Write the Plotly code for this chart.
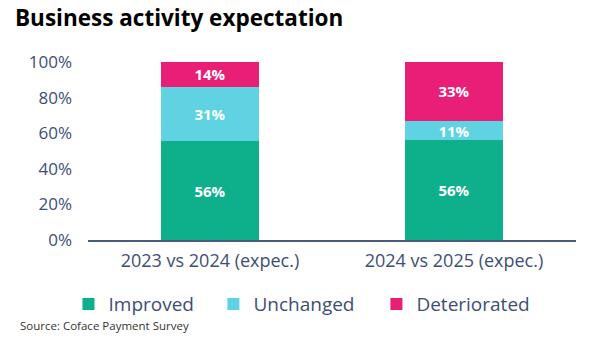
import plotly.graph_objects as go

categories = ["2023 vs 2024 (expec.)", "2024 vs 2025 (expec.)"]
improved = [55.6, 56]
unchanged = [30.6, 11]
deteriorated = [13.8, 33]
y_ticks = [0, 20, 40, 60, 80, 100]
y_tick_labels = ["0%", "20%", "40%", "60%", "80%", "100%"]

TXT = "#3d4e75"
FONT = "Open Sans"

series = [("Improved", improved, "#0eaf8b", "legend", -0.040),
          ("Unchanged", unchanged, "#5fd3e1", "legend2", 0.257),
          ("Deteriorated", deteriorated, "#e91e76", "legend3", 0.591)]

fig = go.Figure()
for name, vals, col, lg, _ in series:
    fig.add_trace(go.Bar(
        x=categories, y=vals, name=name, legend=lg,
        marker=dict(color=col, line=dict(width=0)),
        texttemplate="%{y:.0f}%", textposition="inside", insidetextanchor="middle",
        textfont=dict(color="white", size=15, family=FONT, weight="bold"),
        hoverinfo="skip",
    ))

legend_common = dict(orientation="h", xanchor="left", y=-0.36, yanchor="middle",
                     font=dict(size=19, color=TXT), itemwidth=30, bgcolor="rgba(0,0,0,0)")

fig.update_layout(
    barmode="stack", bargap=0.6,
    width=600, height=355,
    margin=dict(l=88, r=24, t=62, b=115, autoexpand=False),
    paper_bgcolor="white", plot_bgcolor="white",
    font=dict(family=FONT, color=TXT),
    title=dict(text="<b>Business activity expectation</b>", x=0.025, xanchor="left",
               xref="container", y=0.949, yanchor="middle", yref="container",
               font=dict(size=22.5, color="black", family=FONT)),
    xaxis=dict(showline=True, linecolor="#4a5a7a", linewidth=1.5, ticks="",
               tickfont=dict(size=18, color=TXT), showgrid=False, automargin=False,
               ticklabelstandoff=4),
    yaxis=dict(range=[0, 100], tickvals=y_ticks, ticktext=y_tick_labels, showgrid=False,
               zeroline=False, showline=False, tickfont=dict(size=17, color=TXT),
               ticklabelstandoff=15, automargin=False),
    legend=dict(legend_common, x=series[0][4]),
    legend2=dict(legend_common, x=series[1][4]),
    legend3=dict(legend_common, x=series[2][4]),
    uniformtext=dict(minsize=15, mode="show"),
    showlegend=True,
)
fig.add_annotation(text="Source: Coface Payment Survey", xref="paper", yref="paper",
                   x=-0.143, y=-0.483, xanchor="left", yanchor="middle", showarrow=False,
                   font=dict(size=11.5, color="#333333", family=FONT))

fig.write_html("out.html", config={"displayModeBar": False},
               post_script="document.body.style.margin='0';")
